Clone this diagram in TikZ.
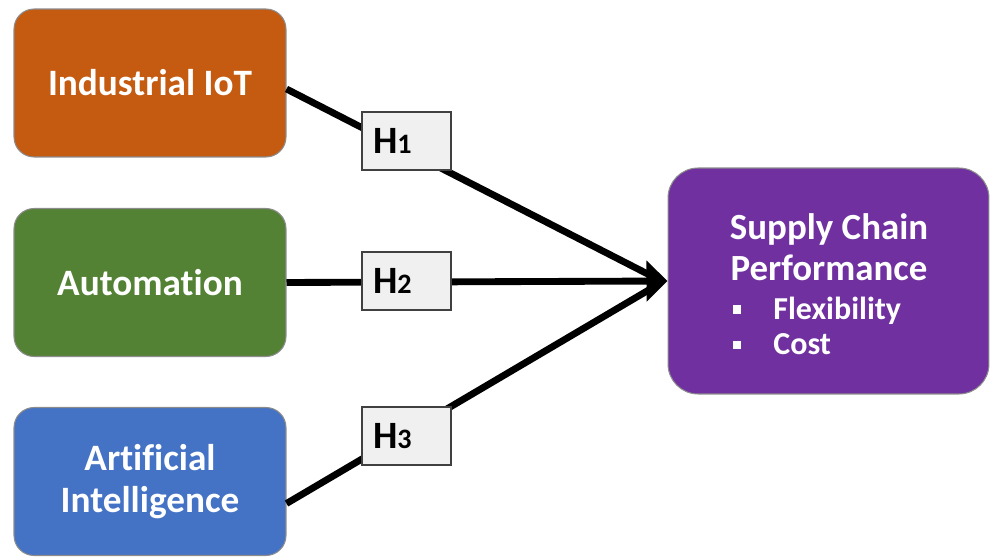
\documentclass[tikz,border=0pt]{standalone}
\usepackage{fontspec}
\setmainfont{Carlito}[Ligatures={NoCommon}]
\usetikzlibrary{arrows.meta,calc}
\definecolor{iotc}{HTML}{C55A11}
\definecolor{autc}{HTML}{548235}
\definecolor{aic}{HTML}{4472C4}
\definecolor{scpc}{HTML}{7030A0}
\definecolor{hfill}{HTML}{F0F0F0}
\definecolor{edgec}{HTML}{8C8C8C}
\newcommand\blt{\makebox[22.8pt][l]{\rule[3.4pt]{4.6pt}{4.6pt}}}
\begin{document}
\begin{tikzpicture}[x=0.02cm,y=-0.02cm,
  factor/.style={draw=edgec, line width=0.6pt, rounded corners=0.4cm, minimum width=5.44cm, minimum height=2.96cm, text=white, font=\bfseries\fontsize{21.2}{24}\selectfont, align=center, inner sep=0pt},
  hyp/.style={draw=black!75, fill=hfill, line width=0.6pt, minimum width=1.78cm, minimum height=1.16cm, text width=1.34cm, inner xsep=0.22cm, align=left, font=\bfseries\fontsize{22}{24}\selectfont},
  link/.style={line width=3.9pt},
]
\useasboundingbox (0,0) rectangle (992,557);
\node[factor, fill=iotc] (iot) at (150,83) {Industrial IoT};
\node[factor, fill=autc] (aut) at (150,282.5) {Automation};
\node[factor, fill=aic] (ai) at (150,481.5) {Artificial\\Intelligence};
\node[draw=edgec, fill=scpc, rounded corners=0.6cm, minimum width=6.42cm, minimum height=4.52cm, line width=0.6pt] (scp) at (828.5,281) {};
\node[text=white, font=\bfseries\fontsize{21}{23}\selectfont, align=center] (scpt) at (829,247) {Supply Chain\\Performance};
\node[text=white, font=\bfseries\fontsize{18.2}{20}\selectfont, align=left, anchor=west, inner sep=0pt] (scpl) at (733,326) {\blt Flexibility\\\blt Cost};
\coordinate (tip) at (scp.west);
\coordinate (base) at ($(tip)+(-12,0)$);
\draw[link] ($(iot.east)+(0,6)$) -- ($(base)+(0,-3)$);
\draw[link] ($(ai.east)+(0,22)$) -- ($(base)+(0,5)$);
\draw[link,-{Triangle[length=0.42cm,width=0.8cm]}] (aut.east) -- (tip);
\node[hyp] (h1) at (406.5,141) {H{\fontsize{16}{16}\selectfont 1}};
\node[hyp] (h2) at (406.5,281) {H{\fontsize{16}{16}\selectfont 2}};
\node[hyp] (h3) at (406.5,436) {H{\fontsize{16}{16}\selectfont 3}};
\end{tikzpicture}
\end{document}
